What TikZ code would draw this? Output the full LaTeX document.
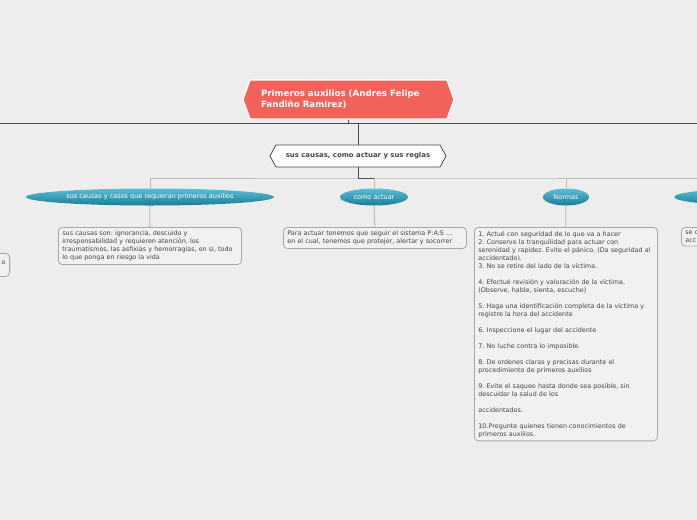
\documentclass[tikz,border=0pt]{standalone}
\usepackage{fontspec}
\setmainfont{DejaVu Sans}
\usepackage{xcolor}
\usepackage{tikz}
\usetikzlibrary{arrows.meta,positioning,shapes.geometric,shapes.symbols,calc}

\definecolor{paperbg}{HTML}{EDEDED}
\definecolor{titlered}{HTML}{F2625A}
\definecolor{tealtop}{HTML}{5CBFD6}
\definecolor{tealbot}{HTML}{1A7D97}
\definecolor{boxline}{HTML}{A8A8A8}
\definecolor{boxfill}{HTML}{F1F1F1}
\definecolor{inktext}{HTML}{444444}
\definecolor{trunkgray}{HTML}{4A4A4A}
\definecolor{branchgray}{HTML}{BBBBBB}

\frenchspacing
\begin{document}
\begin{tikzpicture}[x=1pt, y=-1pt,
  root/.style={signal, signal to=east and west, signal pointer angle=140, fill=titlered, draw=white, line width=1.2pt, minimum width=211pt, minimum height=39pt, inner sep=0pt, text=white, font=\fontsize{8.7}{11}\selectfont\bfseries, align=left, text width=175pt},
  topic/.style={signal, signal to=east and west, signal pointer angle=123, fill=white, draw=trunkgray, line width=0.8pt, minimum width=176pt, minimum height=22pt, inner sep=0pt, text=inktext, font=\fontsize{6.9}{8}\selectfont\bfseries},
  bubble/.style={ellipse, top color=tealtop, bottom color=tealbot, draw=none, minimum height=17pt, inner sep=0pt, text=white, font=\fontsize{6.5}{8}\selectfont},
  note/.style={rectangle, rounded corners=4pt, draw=boxline, fill=boxfill, line width=0.8pt, text=inktext, font=\fontsize{6.4}{8}\selectfont, align=left, text width=175pt, inner xsep=4pt, inner ysep=3.5pt, anchor=north west},
  trunk/.style={draw=trunkgray, line width=0.9pt},
  branch/.style={draw=branchgray, line width=1pt}
]

% Page
\fill[paperbg] (0,0) rectangle (697,520);
\useasboundingbox (0,0) rectangle (697,520);
\clip (0,0) rectangle (697,520);

% Main rule
\coordinate (rulel) at (0,123);
\coordinate (ruler) at (697,123);
\draw[trunk] (rulel) -- (ruler);

% Title and topic
\node[root] (title) at (348.5,99.5) {Primeros auxilios (Andres Felipe\\Fandiño Ramirez)};
\node[topic] (sub) at (358,156) {sus causas, como actuar y sus reglas};

% Branches
\node[bubble, minimum width=248pt] (causas) at (150,197) {sus causas y casos que requieran primeros auxilios};
\node[bubble, minimum width=68pt] (actuar) at (374,197) {como actuar};
\node[bubble, minimum width=46pt] (normas) at (566,197) {Normas};
\node[bubble, minimum width=172pt] (otra) at (760,197) {};
\coordinate (bus) at (358,178);

% Notes
\node[note] (ncausas) at (58,227) {sus causas son: ignorancia, descuido y\\irresponsabilidad y requieren atención, los\\traumatismos, las asfixias y hemorragias, en si, todo\\lo que ponga en riesgo la vida};
\node[note] (nactuar) at (283,227) {Para actuar tenemos que seguir el sistema P:A:S ...\\en el cual, tenemos que protejer, alertar y socorrer};
\node[note] (nnormas) at (474,227) {1. Actué con seguridad de lo que va a hacer\\
2. Conserve la tranquilidad para actuar con\\
serenidad y rapidez. Evite el pánico. (Da seguridad al\\
accidentado).\\
3. No se retire del lado de la víctima.\\[8pt]
4. Efectué revisión y valoración de la víctima.\\
(Observe, hable, sienta, escuche)\\[8pt]
5. Haga una identificación completa de la víctima y\\
registre la hora del accidente\\[8pt]
6. Inspeccione el lugar del accidente\\[8pt]
7. No luche contra lo imposible.\\[8pt]
8. De ordenes claras y precisas durante el\\
procedimiento de primeros auxilios\\[8pt]
9. Evite el saqueo hasta donde sea posible, sin\\
descuidar la salud de los\\[8pt]
accidentados.\\[8pt]
10.Pregunte quienes tienen conocimientos de\\
primeros auxilios.};
\node[note] (notra) at (681,227) {se c\\acc};
\node[note, anchor=north east, text width=60pt, align=right] (nleft) at (10,253) {~\\o\hspace*{3pt}\\~};

% Connectors
\draw[trunk] (title.south) -- (title.south |- rulel);
\draw[trunk] (sub.north) -- (sub.north |- rulel);
\draw[branch] (causas.north) |- (bus) -| (otra.north);
\draw[branch] (actuar.north) -- (actuar.north |- bus);
\draw[branch] (normas.north) -- (normas.north |- bus);
\draw[trunk] (sub.south) |- (actuar.north |- bus);
\draw[branch] (causas.south) -- (ncausas.north);
\draw[branch] (actuar.south) -- (nactuar.north);
\draw[branch] (normas.south) -- (nnormas.north);

\end{tikzpicture}
\end{document}
